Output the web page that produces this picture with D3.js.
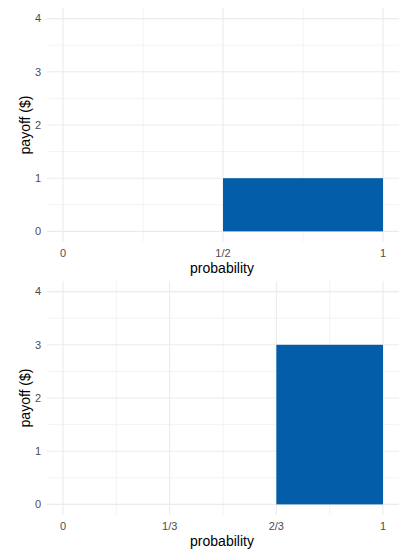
<!DOCTYPE html>
<html><head><meta charset="utf-8">
<script src="https://cdn.jsdelivr.net/npm/d3@7"></script>
<style>body{margin:0;background:#fff}svg{display:block;font-family:"Liberation Sans",Arial,sans-serif}</style>
</head><body><svg id="c" width="399" height="550"></svg>
<script>
// Panel 1 data
const p1Start = [0.5];
const p1End = [1];
const p1Payoff = [1];
const p1Breaks = [0, 1/2, 1];
const p1Labels = ["0", "1/2", "1"];
// Panel 2 data
const p2Start = [2/3];
const p2End = [1];
const p2Payoff = [3];
const p2Breaks = [0, 1/3, 2/3, 1];
const p2Labels = ["0", "1/3", "2/3", "1"];
const yBreaks = [0, 1, 2, 3, 4];

const svg = d3.select("#c");
const barColor = "#035DA8";
const gridColor = "#EBEBEB";

function panel(top, starts, ends, payoffs, breaks, labels) {
  const left = 47, right = 399, ptop = top, pbot = top + 234;
  const x = d3.scaleLinear().domain([-0.05, 1.05]).range([left, right]);
  const y = d3.scaleLinear().domain([-0.2, 4.2]).range([pbot, ptop]);
  const g = svg.append("g");
  // minor y
  const yMinor = yBreaks.slice(0, -1).map(d => d + 0.5);
  g.selectAll(".ym").data(yMinor).enter().append("line")
    .attr("x1", left).attr("x2", right).attr("y1", d => y(d)).attr("y2", d => y(d))
    .attr("stroke", gridColor).attr("stroke-width", 0.6);
  // minor x
  const xMinor = breaks.slice(0, -1).map((d, i) => (d + breaks[i + 1]) / 2);
  g.selectAll(".xm").data(xMinor).enter().append("line")
    .attr("y1", ptop).attr("y2", pbot).attr("x1", d => x(d)).attr("x2", d => x(d))
    .attr("stroke", gridColor).attr("stroke-width", 0.6);
  // major
  g.selectAll(".yM").data(yBreaks).enter().append("line")
    .attr("x1", left).attr("x2", right).attr("y1", d => y(d)).attr("y2", d => y(d))
    .attr("stroke", gridColor).attr("stroke-width", 1.1);
  g.selectAll(".xM").data(breaks).enter().append("line")
    .attr("y1", ptop).attr("y2", pbot).attr("x1", d => x(d)).attr("x2", d => x(d))
    .attr("stroke", gridColor).attr("stroke-width", 1.1);
  // bars
  g.selectAll(".bar").data(starts).enter().append("rect")
    .attr("x", (d) => x(d)).attr("width", (d, i) => x(ends[i]) - x(d))
    .attr("y", (d, i) => y(payoffs[i])).attr("height", (d, i) => y(0) - y(payoffs[i]))
    .attr("fill", barColor);
  // y tick labels
  g.selectAll(".yl").data(yBreaks).enter().append("text")
    .attr("x", 41).attr("y", d => y(d)).attr("dy", "0.35em")
    .attr("text-anchor", "end").attr("font-size", 11).attr("fill", "#4D4D4D").text(d => d);
  // x tick labels
  g.selectAll(".xl").data(breaks).enter().append("text")
    .attr("x", d => x(d)).attr("y", pbot + 11).attr("dy", "0.35em")
    .attr("text-anchor", "middle").attr("font-size", 11).attr("fill", "#4D4D4D").text((d, i) => labels[i]);
  // titles
  g.append("text").attr("x", (left + right) / 2 - 1).attr("y", pbot + 26).attr("dy", "0.35em")
    .attr("text-anchor", "middle").attr("font-size", 14).attr("fill", "#000").text("probability");
  g.append("text").attr("transform", `translate(25,${(ptop + pbot) / 2}) rotate(-90)`)
    .attr("dy", "0.35em").attr("text-anchor", "middle").attr("font-size", 14).attr("fill", "#000").text("payoff ($)");
}

panel(8, p1Start, p1End, p1Payoff, p1Breaks, p1Labels);
panel(281, p2Start, p2End, p2Payoff, p2Breaks, p2Labels);
</script></body></html>
